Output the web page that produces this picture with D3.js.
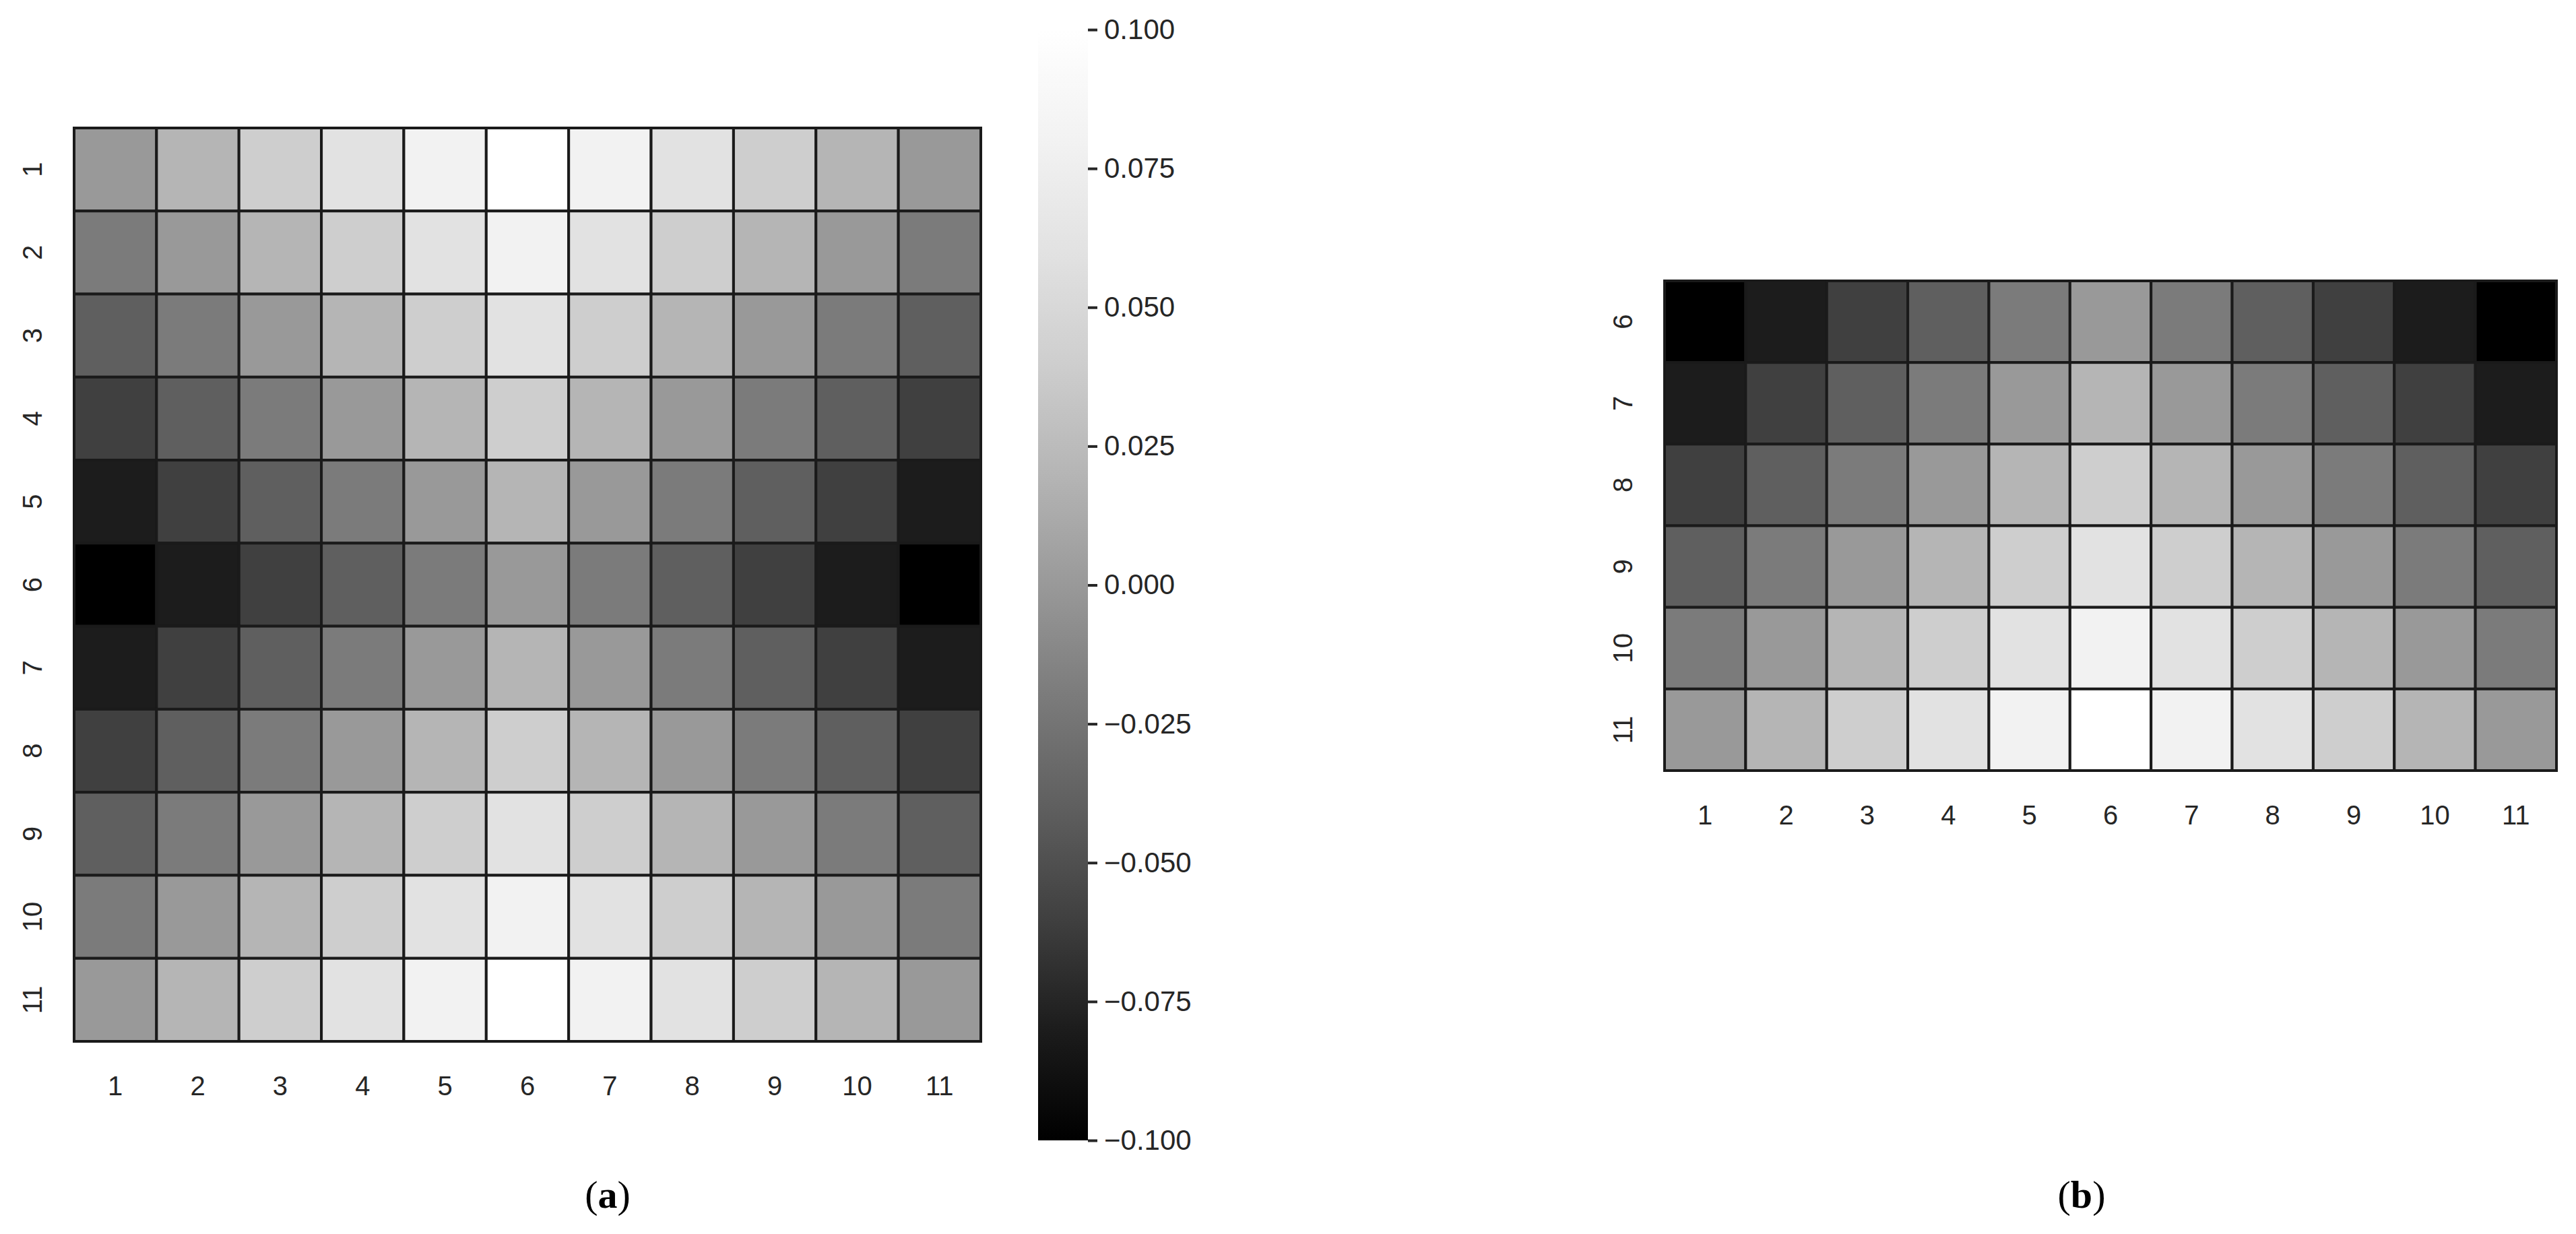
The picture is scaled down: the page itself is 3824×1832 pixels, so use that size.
<!DOCTYPE html>
<html>
<head>
<meta charset="utf-8">
<script src="https://cdnjs.cloudflare.com/ajax/libs/d3/7.8.5/d3.min.js"></script>
<style>
  body { margin: 0; background: #fff; }
  text { font-family: "Liberation Sans", Arial, sans-serif; fill: #262626; }
</style>
</head>
<body>
<script>
// values (x 0.01)
var rowLabels = [1, 2, 3, 4, 5, 6, 7, 8, 9, 10, 11]
var colLabels = [1, 2, 3, 4, 5, 6, 7, 8, 9, 10, 11]
var values = [
  [  0,  2,  4,  6,  8, 10,  8,  6,  4,  2,  0],
  [ -2,  0,  2,  4,  6,  8,  6,  4,  2,  0, -2],
  [ -4, -2,  0,  2,  4,  6,  4,  2,  0, -2, -4],
  [ -6, -4, -2,  0,  2,  4,  2,  0, -2, -4, -6],
  [ -8, -6, -4, -2,  0,  2,  0, -2, -4, -6, -8],
  [-10, -8, -6, -4, -2,  0, -2, -4, -6, -8,-10],
  [ -8, -6, -4, -2,  0,  2,  0, -2, -4, -6, -8],
  [ -6, -4, -2,  0,  2,  4,  2,  0, -2, -4, -6],
  [ -4, -2,  0,  2,  4,  6,  4,  2,  0, -2, -4],
  [ -2,  0,  2,  4,  6,  8,  6,  4,  2,  0, -2],
  [  0,  2,  4,  6,  8, 10,  8,  6,  4,  2,  0]
]
var rowsB = [6, 7, 8, 9, 10, 11]
var cbarTicks = [-0.1, -0.075, -0.05, -0.025, 0, 0.025, 0.05, 0.075, 0.1]
var greyStops = [0, 28, 64, 95, 123, 153, 181, 206, 226, 242, 255]

var color = d3.scaleLinear()
  .domain(d3.range(11).map(function(i) { return -0.1 + i * 0.02 }))
  .range(greyStops.map(function(g) { return d3.rgb(g, g, g) }))

var svg = d3.select("body").append("svg").attr("width", 3824).attr("height", 1832)

function heatmap(rows, x0, x1, y0, y1) {
  var g = svg.append("g")
  var x = d3.scaleBand().domain(colLabels).range([x0, x1])
  var y = d3.scaleBand().domain(rows).range([y0, y1])
  rows.forEach(function(r) {
    colLabels.forEach(function(c) {
      g.append("rect")
        .attr("x", x(c)).attr("y", y(r))
        .attr("width", x.bandwidth()).attr("height", y.bandwidth())
        .attr("fill", color(values[r - 1][c - 1] / 100))
        .attr("stroke", "#1a1a1a").attr("stroke-width", 4)
    })
  })
  colLabels.forEach(function(c) {
    g.append("text").text(c)
      .attr("x", x(c) + x.bandwidth() / 2).attr("y", y1 + 80)
      .attr("text-anchor", "middle").attr("font-size", 40)
  })
  rows.forEach(function(r) {
    var cy = y(r) + y.bandwidth() / 2
    g.append("text").text(r)
      .attr("transform", "translate(" + (x0 - 48) + "," + cy + ") rotate(-90)")
      .attr("text-anchor", "middle").attr("font-size", 40)
  })
}

heatmap(rowLabels, 110, 1456, 190, 1546)
heatmap(rowsB, 2471, 3795, 417, 1144)

// colorbar
var cbX = 1541, cbW = 74, cbTop = 44, cbBot = 1693
var cy = d3.scaleLinear().domain([-0.1, 0.1]).range([cbBot, cbTop])
var defs = svg.append("defs")
var grad = defs.append("linearGradient").attr("id", "cb")
  .attr("x1", 0).attr("y1", 1).attr("x2", 0).attr("y2", 0)
color.domain().forEach(function(d, i) {
  grad.append("stop").attr("offset", i / 10).attr("stop-color", color(d))
})
svg.append("rect").attr("x", cbX).attr("y", cbTop).attr("width", cbW)
  .attr("height", cbBot - cbTop).attr("fill", "url(#cb)")
var axis = d3.axisRight(cy).tickValues(cbarTicks).tickSize(14).tickPadding(10)
  .tickFormat(function(d) { return d3.format(".3f")(d).replace("-", "\u2212") })
var ag = svg.append("g").attr("transform", "translate(" + (cbX + cbW) + ",0)").call(axis)
ag.select(".domain").remove()
ag.selectAll(".tick line").attr("stroke", "#262626").attr("stroke-width", 4)
ag.selectAll(".tick text").attr("font-size", 42).attr("fill", "#262626")
  .style("font-family", "Liberation Sans, Arial, sans-serif")

// panel labels
function panelLabel(t, x) {
  var tx = svg.append("text").attr("x", x).attr("y", 1793).attr("text-anchor", "middle")
    .attr("font-size", 58).style("font-family", "Liberation Serif, serif").style("fill", "#000")
  tx.append("tspan").text("(")
  tx.append("tspan").text(t).attr("font-weight", "bold")
  tx.append("tspan").text(")")
}
panelLabel("a", 902)
panelLabel("b", 3090)
</script>
</body>
</html>
